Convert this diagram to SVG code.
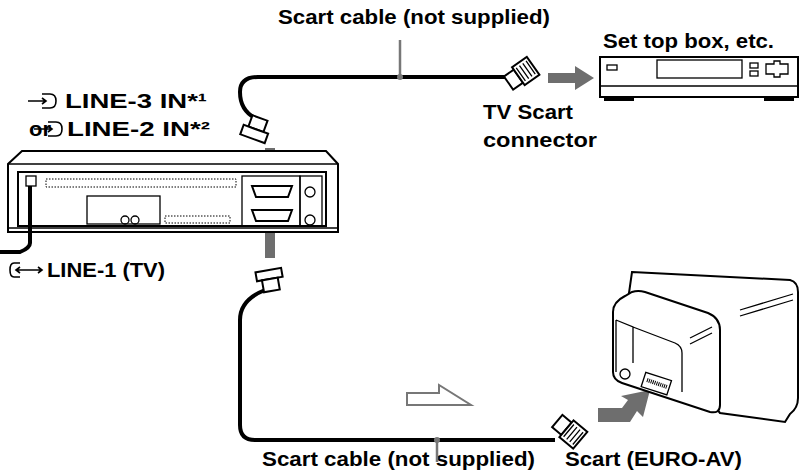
<svg xmlns="http://www.w3.org/2000/svg" width="806" height="474" viewBox="0 0 806 474">
<style>
.t{font-family:"Liberation Sans",Arial,sans-serif;font-weight:bold;font-size:21px;fill:#000}
.o{fill:#fff;stroke:#000;stroke-width:2}
.th{fill:none;stroke:#000;stroke-width:1.3}
.ic{fill:none;stroke:#000;stroke-width:1.6}
.cab{fill:none;stroke:#000;stroke-width:4}
.ga{fill:#6e6e6e}
.gl{stroke:#777;stroke-width:2.5}
</style>
<rect width="806" height="474" fill="#fff"/>
<g id="labels">
<text class="t" x="278" y="24" textLength="272" lengthAdjust="spacingAndGlyphs">Scart cable (not supplied)</text>
<text class="t" x="603" y="48" textLength="171" lengthAdjust="spacingAndGlyphs">Set top box, etc.</text>
<text class="t" x="483" y="119" textLength="90" lengthAdjust="spacingAndGlyphs">TV Scart</text>
<text class="t" x="483" y="147" textLength="114" lengthAdjust="spacingAndGlyphs">connector</text>
<text class="t" x="65" y="108" textLength="142" lengthAdjust="spacingAndGlyphs">LINE-3 IN*¹</text>
<text class="t" x="29" y="136" textLength="22" lengthAdjust="spacingAndGlyphs">or</text>
<text class="t" x="67" y="136" textLength="143" lengthAdjust="spacingAndGlyphs">LINE-2 IN*²</text>
<text class="t" x="47" y="277" textLength="118" lengthAdjust="spacingAndGlyphs">LINE-1 (TV)</text>
<text class="t" x="262" y="466" textLength="273" lengthAdjust="spacingAndGlyphs">Scart cable (not supplied)</text>
<text class="t" x="565" y="466" textLength="177" lengthAdjust="spacingAndGlyphs">Scart (EURO-AV)</text>
<path class="ic" d="M28,101 H46 M42,98 L46,101 L42,104 M42,94 H50 Q56,94 56,101 Q56,108 50,108 H42"/>
<path class="ic" d="M34,129 H52 M48,126 L52,129 L48,132 M48,122 H56 Q62,122 62,129 Q62,136 56,136 H48"/>
<path class="ic" d="M20,263 H14 Q10,263 10,270 Q10,277 14,277 H20 M16,270 H42 M38,267 L42,270 L38,273 M20,267 L16,270 L20,273"/>
</g>
<g id="connectors">
<path class="cab" d="M505,77 H258 Q240,77 240,92 Q240,110 255,118"/>
<path class="cab" d="M265,290 Q240,300 240,320 V425 Q240,440 255,440 H555"/>
<line class="gl" x1="400" y1="40" x2="400" y2="77"/><circle cx="400" cy="77" r="3" fill="#777"/>
<line class="gl" x1="437" y1="440" x2="437" y2="462"/><circle cx="437" cy="440" r="3" fill="#777"/>
<path d="M407,393 H439 V385 L471,405 H407 Z" fill="none" stroke="#777" stroke-width="2"/>
<path class="ga" d="M265,148 H275 V176 H283 L270,192 L257,176 H265 Z"/>
<path class="ga" d="M265,258 H275 V228 H283 L270,212 L257,228 H265 Z"/>
<path class="ga" d="M548,73 H575 V66 L594,78 L575,90 V83 H548 Z"/>
<path class="ga" d="M598,408 H622 L628,400 L621,396 L650,390 L643,417 L637,411 L630,422 H598 Z"/>
<g transform="translate(260,118) rotate(20)"><rect class="o" x="-8" y="0" width="16" height="12"/><rect class="o" x="-13" y="12" width="26" height="10"/></g>
<g transform="translate(270,280) rotate(-10)"><rect class="o" x="-13" y="-10" width="26" height="9"/><rect class="o" x="-8" y="-1" width="16" height="12"/></g>
<g transform="translate(520,75) rotate(-35)"><rect class="o" x="-14" y="-8" width="12" height="16"/><rect class="o" x="-2" y="-11" width="18" height="22"/><path class="th" d="M1,-8 V8 M5,-8 V8 M9,-8 V8 M13,-8 V8"/></g>
<g transform="translate(568,430) rotate(40)"><rect class="o" x="-14" y="-8" width="12" height="16"/><rect class="o" x="-2" y="-11" width="18" height="22"/><path class="th" d="M1,-8 V8 M5,-8 V8 M9,-8 V8 M13,-8 V8"/></g>
</g>
<g id="vcr">
<path class="o" d="M22,151 H326 L338,164 V232 H8 V164 Z"/>
<line class="th" x1="8" y1="164" x2="338" y2="164"/>
<rect class="o" x="18" y="172" width="308" height="54"/>
<line class="th" x1="8" y1="228" x2="338" y2="228"/>
<rect x="46" y="179" width="190" height="8" fill="none" stroke="#000" stroke-dasharray="1.5,1.5"/>
<rect x="165" y="216" width="65" height="7" fill="none" stroke="#000" stroke-dasharray="1.5,1.5"/>
<rect class="th" x="87" y="196" width="73" height="28"/>
<circle class="th" cx="125" cy="220" r="4"/><circle class="th" cx="135" cy="220" r="4"/>
<rect class="th" x="242" y="176" width="58" height="50"/>
<rect class="th" x="300" y="176" width="22" height="50"/>
<path class="o" d="M252,186 H292 L288,197 H256 Z"/>
<path class="o" d="M252,210 H292 L288,221 H256 Z"/>
<circle class="th" cx="310" cy="192" r="5"/><circle class="th" cx="310" cy="220" r="5"/>
<rect class="th" x="26" y="176" width="10" height="10"/>
<path class="cab" stroke-width="2.5" d="M30,186 V243 Q30,248 20,252 H0"/>
</g>
<g id="stb">
<rect class="o" x="600" y="57" width="198" height="40"/>
<line class="th" x1="600" y1="86" x2="798" y2="86"/>
<rect class="th" x="607" y="65" width="10" height="5"/>
<rect class="th" x="657" y="60" width="85" height="18"/>
<rect class="th" x="750" y="63" width="8" height="5"/><rect class="th" x="750" y="71" width="8" height="5"/>
<path class="th" d="M766,64 H774 V61 H780 V64 H788 V74 H780 V77 H774 V74 H766 Z"/>
<rect x="604" y="97" width="30" height="4" fill="#000"/><rect x="764" y="97" width="30" height="4" fill="#000"/>
</g>
<g id="tv">
<path class="o" d="M632,272 L790,280 Q798,282 798,292 V398 Q798,408 790,414 L785,422 L720,413 L628,300 Z"/>
<path class="th" d="M740,310 L793,294 M740,316 L793,300"/>
<path class="o" d="M613,312 Q613,302 625,296 L632,292 Q638,290 645,292 L708,313 Q720,318 720,330 V405 Q720,414 710,412 L622,383 Q613,380 613,372 Z"/>
<path class="th" d="M616,320 V372 M616,320 L633,327 V363 M633,327 L675,343 Q682,346 682,353 V392"/>
<path class="th" d="M690,338 L712,327 M690,344 L712,333"/>
<circle class="th" cx="625" cy="374" r="5"/>
<rect class="th" x="643" y="376" width="27" height="15" transform="rotate(18 656 383)"/>
<path d="M647,380 L667,387" stroke="#000" stroke-width="4" stroke-dasharray="1,1"/>
</g>
</svg>
